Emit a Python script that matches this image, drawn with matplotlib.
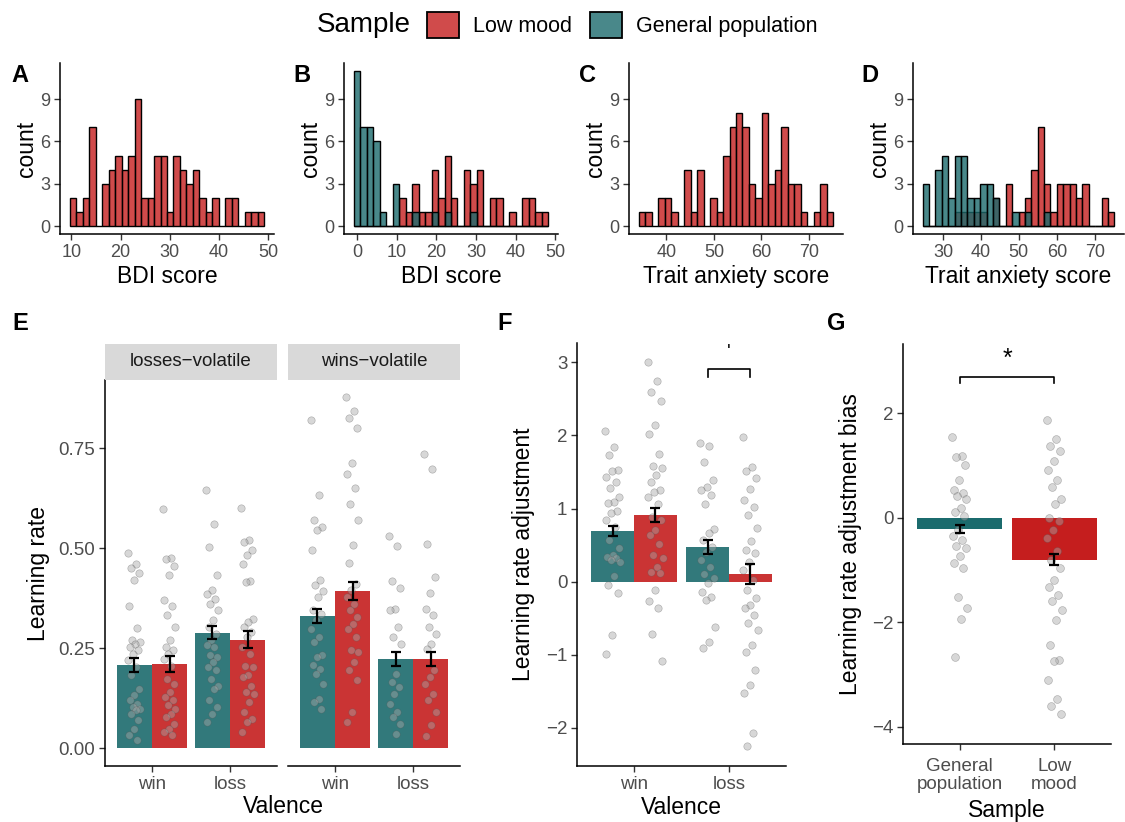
import numpy as np
import matplotlib
matplotlib.use("Agg")
import matplotlib.pyplot as plt
from matplotlib.patches import Patch
from matplotlib.colors import to_rgba

plt.rcParams['font.family'] = ['Liberation Sans', 'DejaVu Sans']

RED = "#C51E1E"
TEAL = "#1B6B6D"
TICK_TXT = "#4D4D4D"
PT_FACE = "#A8A8A8"

# ---------------- histogram data (30 bins each) ----------------
# A: BDI, low mood sample
a_low = [2, 1, 2, 7, 0, 3, 4, 5, 4, 5, 9, 2, 2, 5, 5, 1, 5, 4, 3, 4, 2, 1, 2, 0, 2, 2, 0, 1, 1, 1]
a_bins = (9.7, 1.315)          # first edge, bin width
# B: BDI, both samples
b_low = [0, 0, 0, 0, 0, 0, 0, 2, 1, 3, 1, 1, 4, 2, 5, 2, 0, 4, 3, 4, 0, 2, 2, 0, 1, 0, 2, 2, 1, 1]
b_gen = [11, 7, 7, 6, 1, 0, 3, 0, 0, 1, 0, 0, 1, 0, 1, 0, 0, 0, 1, 0, 0, 0, 0, 0, 0, 0, 0, 0, 0, 0]
b_bins = (-0.83, 1.634)
# C: trait anxiety, low mood sample
c_low = [1, 1, 0, 2, 2, 1, 0, 4, 1, 4, 0, 2, 1, 5, 7, 8, 7, 3, 2, 8, 3, 4, 7, 3, 3, 1, 0, 1, 3, 1]
c_bins = (34.2, 1.363)
# D: trait anxiety, both samples
d_low = [0, 0, 0, 0, 0, 1, 1, 1, 1, 1, 0, 2, 0, 3, 0, 1, 2, 4, 7, 3, 1, 3, 3, 3, 2, 3, 0, 0, 2, 1]
d_gen = [3, 0, 4, 5, 2, 5, 5, 2, 2, 3, 3, 2, 0, 0, 1, 0, 1, 0, 0, 1, 0, 0, 0, 0, 0, 0, 0, 0, 0, 0]
d_bins = (24.6, 1.687)

# ---------------- E: learning rates ----------------
valence = ["win", "loss"]
blocks = ["losses\u2212volatile", "wins\u2212volatile"]
e_mean_gen = [[0.209, 0.289], [0.331, 0.224]]
e_se_gen = [[0.017, 0.016], [0.0175, 0.0175]]
e_mean_low = [[0.211, 0.272], [0.394, 0.2225]]
e_se_low = [[0.019, 0.022], [0.023, 0.0175]]
e_pts_gen = [
    [[0.488, 0.462, 0.451, 0.438, 0.42, 0.356, 0.302, 0.272, 0.266, 0.262, 0.253, 0.245, 0.237,
      0.22, 0.203, 0.183, 0.149, 0.133, 0.12, 0.112, 0.103, 0.099, 0.095, 0.087, 0.07, 0.049,
      0.033, 0.02],
     [0.646, 0.56, 0.503, 0.434, 0.395, 0.387, 0.374, 0.36, 0.347, 0.322, 0.303, 0.287, 0.27,
      0.258, 0.253, 0.233, 0.228, 0.216, 0.203, 0.195, 0.174, 0.157, 0.149, 0.12, 0.103, 0.087,
      0.066]],
    [[0.822, 0.633, 0.57, 0.553, 0.545, 0.495, 0.42, 0.408, 0.393, 0.378, 0.345, 0.337, 0.32,
      0.299, 0.278, 0.266, 0.233, 0.228, 0.208, 0.199, 0.187, 0.162, 0.124, 0.116, 0.099],
     [0.53, 0.505, 0.418, 0.402, 0.349, 0.345, 0.303, 0.278, 0.262, 0.187, 0.166, 0.153, 0.137,
      0.112, 0.091, 0.078, 0.062, 0.035]],
]
e_pts_low = [
    [[0.599, 0.477, 0.474, 0.455, 0.433, 0.372, 0.355, 0.333, 0.303, 0.272, 0.253, 0.247, 0.237,
      0.224, 0.205, 0.174, 0.162, 0.141, 0.128, 0.12, 0.108, 0.099, 0.087, 0.078, 0.062, 0.049,
      0.041, 0.033],
     [0.602, 0.522, 0.516, 0.495, 0.483, 0.462, 0.418, 0.416, 0.324, 0.316, 0.303, 0.291, 0.278,
      0.253, 0.237, 0.207, 0.203, 0.183, 0.178, 0.157, 0.141, 0.137, 0.116, 0.091, 0.074, 0.066,
      0.041]],
    [[0.878, 0.843, 0.827, 0.801, 0.713, 0.687, 0.652, 0.612, 0.57, 0.509, 0.463, 0.412, 0.395,
      0.378, 0.362, 0.345, 0.328, 0.312, 0.299, 0.278, 0.245, 0.241, 0.216, 0.195, 0.17, 0.091,
      0.066],
     [0.735, 0.698, 0.512, 0.428, 0.388, 0.349, 0.333, 0.303, 0.287, 0.262, 0.249, 0.195, 0.178,
      0.162, 0.137, 0.12, 0.091, 0.058, 0.031]],
]

# ---------------- F: learning rate adjustment ----------------
f_mean_gen = [0.694, 0.47]
f_se_gen = [0.068, 0.095]
f_mean_low = [0.913, 0.105]
f_se_low = [0.099, 0.132]
f_pts_gen = [
    [2.055, 1.836, 1.735, 1.53, 1.52, 1.438, 1.37, 1.279, 1.164, 1.096, 1.073, 0.973, 0.936,
     0.845, 0.753, 0.571, 0.457, 0.365, 0.342, 0.32, 0.297, 0.274, 0.078, -0.046, -0.151,
     -0.731, -0.995],
    [1.895, 1.863, 1.635, 1.393, 1.301, 1.256, 1.187, 1.064, 0.717, 0.662, 0.571, 0.479, 0.411,
     0.297, 0.205, 0.105, 0.046, -0.023, -0.137, -0.205, -0.251, -0.616, -0.822, -0.913],
]
f_pts_low = [
    [3.0, 2.74, 2.589, 2.475, 2.137, 2.018, 1.749, 1.589, 1.553, 1.461, 1.37, 1.256, 1.233,
     1.164, 1.064, 0.89, 0.845, 0.708, 0.639, 0.516, 0.365, 0.32, 0.205, 0.137, 0.114, -0.114,
     -0.265, -0.365, -0.708, -1.087],
    [1.986, 1.575, 1.521, 1.416, 1.265, 1.119, 1.018, 0.913, 0.731, 0.562, 0.434, 0.388, 0.274,
     0.16, 0.023, -0.114, -0.228, -0.315, -0.365, -0.457, -0.571, -0.662, -0.868, -0.959,
     -1.21, -1.416, -1.521, -2.068, -2.251],
]

# ---------------- G: adjustment bias ----------------
samples = ["General\npopulation", "Low\nmood"]
g_mean = [-0.21, -0.798]
g_se = [0.07, 0.102]
g_pts = [
    [1.544, 1.181, 1.161, 1.008, 0.734, 0.542, 0.479, 0.415, 0.364, 0.191, 0.108, 0.032,
     -0.223, -0.351, -0.415, -0.542, -0.574, -0.734, -0.862, -0.957, -1.519, -1.723, -1.934,
     -2.668],
    [1.87, 1.512, 1.372, 1.276, 1.098, 0.913, 0.734, 0.593, 0.364, 0.274, 0.0, -0.064, -0.236,
     -0.383, -0.638, -0.798, -0.957, -1.181, -1.321, -1.468, -1.595, -1.768, -1.946, -2.438,
     -2.712, -2.744, -3.095, -3.459, -3.606, -3.752],
]

W, H = 1125, 822
fig = plt.figure(figsize=(W / 100, H / 100), dpi=100)

TITLE_FS = 16.5


def add_ax(l, t, r, b):
    return fig.add_axes([l / W, 1 - b / H, (r - l) / W, (b - t) / H])


def classic(ax, left=True, fs=13):
    for s in ["top", "right"]:
        ax.spines[s].set_visible(False)
    ax.spines["bottom"].set_linewidth(1.1)
    ax.spines["left"].set_linewidth(1.1)
    ax.tick_params(axis="both", length=4, width=1.0, color="#333333",
                   labelsize=fs, labelcolor=TICK_TXT, pad=3)
    if not left:
        ax.spines["left"].set_visible(False)
        ax.tick_params(axis="y", left=False, labelleft=False)


def jitter(n, width=0.08):
    # deterministic spread around the bar centre
    return width * (((np.arange(n) * 0.618034) % 1.0) * 2 - 1)


def hist_panel(ax, bins, groups, xticks, xlabel):
    start, width = bins
    for counts, col in groups:
        centers = start + width * (np.arange(len(counts)) + 0.5)
        ax.bar(centers, counts, width=width, facecolor=to_rgba(col, 0.8),
               edgecolor="black", linewidth=1.0)
    span = width * 30
    ax.set_xlim(start - 0.05 * span, start + 1.05 * span)
    ax.set_ylim(-0.55, 11.55)
    ax.set_yticks([0, 3, 6, 9])
    ax.set_xticks(xticks)
    classic(ax)
    ax.set_ylabel("count", fontsize=TITLE_FS)
    ax.set_xlabel(xlabel, fontsize=TITLE_FS)
    ax.yaxis.set_label_coords(-22 / 214, 0.5)
    ax.xaxis.set_label_coords(0.5, -31 / 171)


# ---------------- top row ----------------
axA = add_ax(60, 63, 274, 234)
hist_panel(axA, a_bins, [(a_low, RED)], [10, 20, 30, 40, 50], "BDI score")
axB = add_ax(344, 63, 558, 234)
hist_panel(axB, b_bins, [(b_low, RED), (b_gen, TEAL)], [0, 10, 20, 30, 40, 50], "BDI score")
axC = add_ax(629, 63, 843, 234)
hist_panel(axC, c_bins, [(c_low, RED)], [40, 50, 60, 70], "Trait anxiety score")
axD = add_ax(913, 63, 1124, 234)
hist_panel(axD, d_bins, [(d_low, RED), (d_gen, TEAL)], [30, 40, 50, 60, 70], "Trait anxiety score")

# legend
fig.text(364 / W, 1 - 25 / H, "Sample", fontsize=20, ha="center", va="center")
handles = [Patch(facecolor=to_rgba(RED, 0.8), edgecolor="black", linewidth=1.3, label="Low mood"),
           Patch(facecolor=to_rgba(TEAL, 0.8), edgecolor="black", linewidth=1.3,
                 label="General population")]
fig.legend(handles=handles, loc="center left", bbox_to_anchor=(427 / W, 1 - 25 / H), ncol=2,
           frameon=False, fontsize=15.5, handlelength=1.5, handleheight=1.5,
           handletextpad=0.65, columnspacing=0.8, borderaxespad=0, borderpad=0)


# ---------------- E ----------------
def bar_group(ax, x, mean_g, se_g, mean_l, se_l, pts_g, pts_l, alpha=0.9):
    x = np.asarray(x, dtype=float)
    ax.bar(x - 0.225, mean_g, width=0.45, color=TEAL, alpha=alpha, zorder=2, linewidth=0)
    ax.bar(x + 0.225, mean_l, width=0.45, color=RED, alpha=alpha, zorder=2, linewidth=0)
    for i in range(len(x)):
        for off, pts in ((-0.225, pts_g[i]), (0.225, pts_l[i])):
            ax.scatter(x[i] + off + jitter(len(pts)), pts, s=28, facecolor=PT_FACE,
                       edgecolor="#555555", linewidths=0.4, alpha=0.45, zorder=3)
    ax.errorbar(x - 0.225, mean_g, yerr=se_g, fmt="none", ecolor="black", elinewidth=1.6,
                capsize=3.5, capthick=1.6, zorder=4)
    ax.errorbar(x + 0.225, mean_l, yerr=se_l, fmt="none", ecolor="black", elinewidth=1.6,
                capsize=3.5, capthick=1.6, zorder=4)


facet_px = [(105, 277), (288, 460)]
e_axes = []
for k in range(2):
    l, r = facet_px[k]
    ax = add_ax(l, 380, r, 766)
    xs = np.arange(1, len(valence) + 1)
    bar_group(ax, xs, e_mean_gen[k], e_se_gen[k], e_mean_low[k], e_se_low[k],
              e_pts_gen[k], e_pts_low[k])
    ax.set_xlim(0.4, 2.6)
    ax.set_ylim(-0.044, 0.921)
    ax.set_xticks(xs)
    ax.set_xticklabels(valence)
    ax.set_yticks([0, 0.25, 0.5, 0.75])
    ax.set_yticklabels(["0.00", "0.25", "0.50", "0.75"])
    classic(ax, left=(k == 0), fs=13.5)
    strip = add_ax(l, 344, r, 380)
    strip.set_facecolor("#D9D9D9")
    strip.set_xticks([])
    strip.set_yticks([])
    for s in strip.spines.values():
        s.set_visible(False)
    strip.text(0.5, 0.5, blocks[k], ha="center", va="center", fontsize=13.5, color="#1A1A1A")
    e_axes.append(ax)
e_axes[0].set_ylabel("Learning rate", fontsize=TITLE_FS)
e_axes[0].yaxis.set_label_coords(-55 / 172, 0.5)
fig.text(283 / W, 1 - 806 / H, "Valence", fontsize=TITLE_FS, ha="center", va="center")

# ---------------- F ----------------
axF = add_ax(577, 343, 786, 766)
xs = np.arange(1, len(valence) + 1)
bar_group(axF, xs, f_mean_gen, f_se_gen, f_mean_low, f_se_low, f_pts_gen, f_pts_low)
axF.set_xlim(0.4, 2.6)
axF.set_ylim(-2.52, 3.265)
axF.set_xticks(xs)
axF.set_xticklabels(valence)
axF.set_yticks([-2, -1, 0, 1, 2, 3])
classic(axF, fs=13.5)
axF.set_ylabel("Learning rate adjustment", fontsize=TITLE_FS)
axF.yaxis.set_label_coords(-42 / 209, 0.5)
axF.set_xlabel("Valence", fontsize=TITLE_FS)
axF.xaxis.set_label_coords(0.5, -30 / 423)
axF.plot([1.775, 1.775, 2.225, 2.225], [2.8, 2.91, 2.91, 2.8], color="black", lw=1.2)
axF.text(2.0, 3.02, "'", ha="center", va="bottom", fontsize=14)

# ---------------- G ----------------
axG = add_ax(903, 344, 1111, 744)
xs = np.arange(1, len(samples) + 1)
axG.bar(xs, g_mean, width=0.9, color=[TEAL, RED], zorder=2, linewidth=0)
for i in range(len(xs)):
    pts = g_pts[i]
    axG.scatter(xs[i] + jitter(len(pts)), pts, s=32, facecolor=PT_FACE, edgecolor="#555555",
                linewidths=0.4, alpha=0.45, zorder=3)
axG.errorbar(xs, g_mean, yerr=g_se, fmt="none", ecolor="black", elinewidth=1.6, capsize=3.5,
             capthick=1.6, zorder=4)
axG.set_xlim(0.4, 2.6)
axG.set_ylim(-4.33, 3.33)
axG.set_xticks(xs)
axG.set_xticklabels(samples, linespacing=1.05)
axG.set_yticks([-4, -2, 0, 2])
classic(axG, fs=13.5)
axG.tick_params(axis="x", pad=6)
axG.set_ylabel("Learning rate adjustment bias", fontsize=TITLE_FS)
axG.yaxis.set_label_coords(-41 / 208, 0.5)
axG.set_xlabel("Sample", fontsize=TITLE_FS)
axG.xaxis.set_label_coords(0.5, -55 / 400)
axG.plot([1, 1, 2, 2], [2.58, 2.69, 2.69, 2.58], color="black", lw=1.2)
axG.text(1.5, 2.82, "*", ha="center", va="bottom", fontsize=18)

# panel letters
for lab, px, py in [("A", 20, 75), ("B", 302, 75), ("C", 587, 75), ("D", 870, 75),
                    ("E", 20, 323), ("F", 505, 323), ("G", 836, 323)]:
    fig.text(px / W, 1 - py / H, lab, fontsize=17, fontweight="bold", ha="center", va="center")

fig.savefig("out.png", dpi=100)
